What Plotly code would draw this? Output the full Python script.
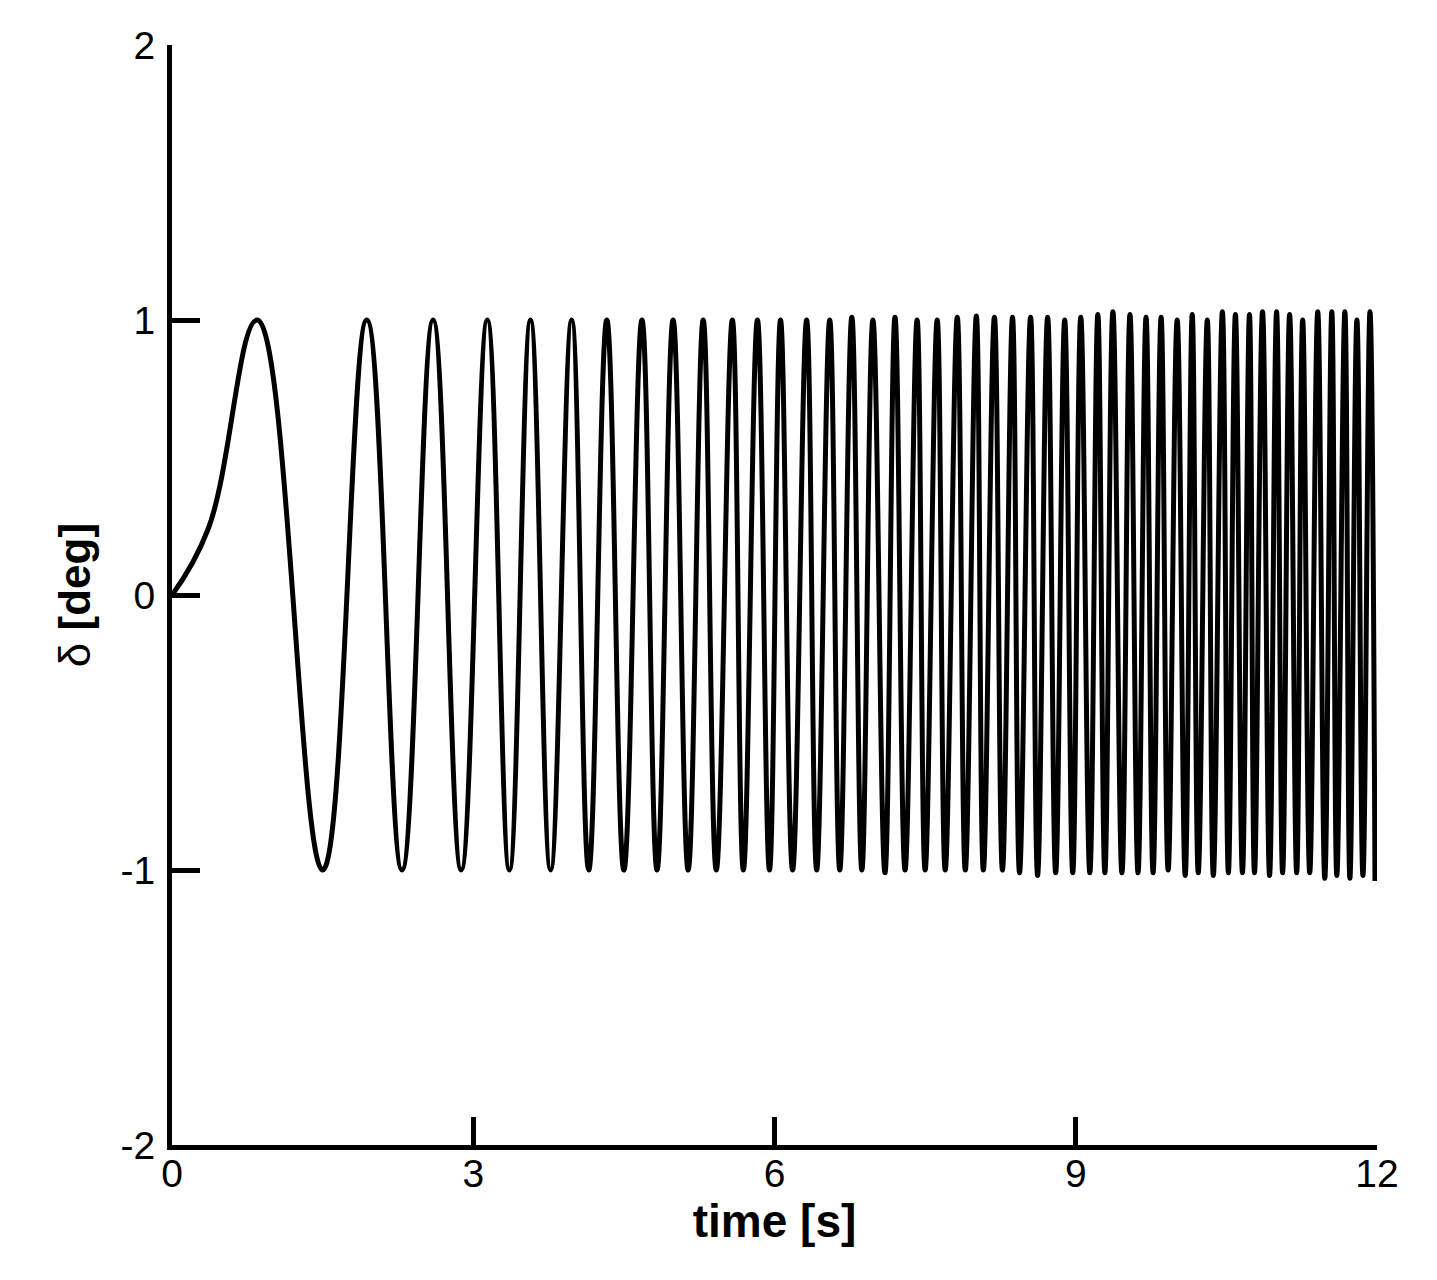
import plotly.graph_objects as go

# 立ち上がり部分（t=0 から最初のピーク手前まで）
rise_t = [0.0, 0.36]
rise_val = [0.0, 0.24]

# ピーク（極大）の時刻と値
peak_t = [0.85, 1.94, 2.60, 3.14, 3.57, 3.98, 4.33, 4.68, 4.99, 5.29,
          5.58, 5.83, 6.06, 6.32, 6.55, 6.77, 6.98, 7.20, 7.42, 7.62,
          7.82, 8.01, 8.19, 8.37, 8.55, 8.72, 8.89, 9.05, 9.22, 9.37,
          9.54, 9.70, 9.85, 10.01, 10.16, 10.31, 10.46, 10.59, 10.73, 10.86,
          11.00, 11.13, 11.26, 11.41, 11.55, 11.68, 11.80, 11.93]
peak_val = [1.00, 1.00, 1.00, 1.00, 1.00, 1.00, 1.00, 1.00, 1.00, 1.00,
            1.00, 1.00, 1.00, 1.00, 1.00, 1.01, 1.00, 1.01, 1.00, 1.00,
            1.01, 1.015, 1.01, 1.01, 1.01, 1.01, 1.00, 1.01, 1.02, 1.03,
            1.02, 1.01, 1.01, 1.00, 1.02, 1.00, 1.03, 1.02, 1.02, 1.03,
            1.03, 1.02, 1.00, 1.03, 1.03, 1.03, 1.00, 1.03]

# 谷（極小）の時刻と値
trough_t = [1.50, 2.29, 2.88, 3.36, 3.77, 4.15, 4.50, 4.83, 5.14, 5.42,
            5.69, 5.95, 6.18, 6.42, 6.65, 6.87, 7.10, 7.30, 7.50, 7.70,
            7.90, 8.08, 8.27, 8.44, 8.62, 8.80, 8.97, 9.14, 9.29, 9.46,
            9.62, 9.77, 9.92, 10.09, 10.22, 10.37, 10.52, 10.66, 10.78, 10.93,
            11.06, 11.20, 11.33, 11.48, 11.60, 11.73, 11.86, 11.98]
trough_val = [-1.00, -1.00, -1.00, -1.00, -1.00, -1.00, -1.00, -1.00, -1.00, -1.00,
              -1.00, -1.00, -1.00, -1.00, -1.00, -1.00, -1.01, -1.00, -1.00, -1.00,
              -1.00, -1.00, -1.00, -1.01, -1.02, -1.01, -1.01, -1.01, -1.01, -1.01,
              -1.01, -1.01, -1.00, -1.02, -1.01, -1.02, -1.01, -1.01, -1.01, -1.02,
              -1.01, -1.01, -1.01, -1.03, -1.02, -1.03, -1.02, -1.04]

x_ticks = [0, 3, 6, 9, 12]
x_labels = ['0', '3', '6', '9', '12']
y_ticks = [-2, -1, 0, 1, 2]
y_labels = ['-2', '-1', '0', '1', '2']

# 点列を組み立て（立ち上がり → ピーク・谷を交互に）
t = list(rise_t)
v = list(rise_val)
for pt, pv, tt, tv in zip(peak_t, peak_val, trough_t, trough_val):
    t += [pt, tt]
    v += [pv, tv]

fig = go.Figure()
fig.add_trace(
    go.Scatter(
        x=t,
        y=v,
        mode='lines',
        line=dict(color='black', width=5, shape='spline', smoothing=1.2),
        showlegend=False
    )
)

font_family = 'Liberation Sans, Arial, sans-serif'
axis_style = dict(
    showline=True,
    linewidth=5,
    linecolor='black',
    showgrid=False,
    zeroline=False,
    ticks='inside',
    ticklen=28,
    tickwidth=5,
    tickcolor='black',
    tickfont=dict(family=font_family, size=39, color='black'),
)

fig.update_layout(
    width=1421,
    height=1264,
    margin=dict(l=164, r=52, t=37, b=127),
    plot_bgcolor='white',
    paper_bgcolor='white',
)

fig.update_xaxes(
    range=[0, 12],
    tickvals=x_ticks,
    ticktext=x_labels,
    ticklabelstandoff=-10,
    title=dict(text='<b>time [s]</b>', font=dict(family=font_family, size=46, color='black'), standoff=0),
    **axis_style
)
fig.update_yaxes(
    range=[-2, 2],
    tickvals=y_ticks,
    ticktext=y_labels,
    ticklabelstandoff=4,
    title=dict(text='δ <b>[deg]</b>', font=dict(family=font_family, size=44, color='black'), standoff=18),
    **axis_style
)

fig.write_html("out.html")
